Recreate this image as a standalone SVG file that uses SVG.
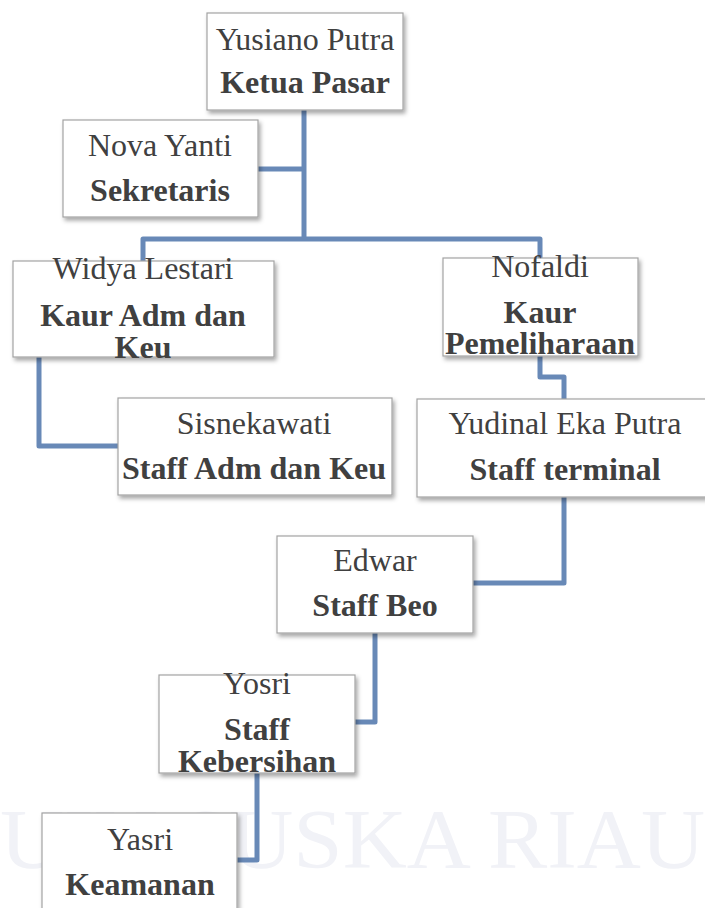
<svg xmlns="http://www.w3.org/2000/svg" width="705" height="908" viewBox="0 0 705 908">
<style>
.box{fill:#ffffff;stroke:#a3a3a3;stroke-width:1.2;filter:url(#sh)}
.t{font-family:"Liberation Serif","Times New Roman",serif;font-size:32px;fill:#404040;text-anchor:middle}
.b{font-weight:bold}
.c{fill:none;stroke:#6889b7;stroke-width:5;stroke-linejoin:round;stroke-linecap:butt}
.wm{font-family:"Liberation Serif","Times New Roman",serif;font-size:84px;fill:#f1f2f7}
</style>
<defs>
<filter id="sh" x="-10%" y="-10%" width="125%" height="135%">
<feDropShadow dx="2" dy="3" stdDeviation="2" flood-color="#000" flood-opacity="0.35"/>
</filter>
</defs>
<rect width="705" height="908" fill="#ffffff"/>
<text class="wm" x="0" y="868" textLength="705" lengthAdjust="spacingAndGlyphs">UIN SUSKA RIAU</text>
<g id="connectors">
<path class="c" d="M304,110 V239"/>
<path class="c" d="M258,169 H304"/>
<path class="c" d="M143,261 V239 H540 V258"/>
<path class="c" d="M39,357 V446 H118"/>
<path class="c" d="M540,356 V377 H564 V399"/>
<path class="c" d="M564,497 V583 H473"/>
<path class="c" d="M375,633 V722 H355"/>
<path class="c" d="M257,773 V860 H237"/>
</g>
<g id="ketua">
<rect class="box" x="207" y="13" width="196" height="97"/>
<text class="t" x="305" y="50">Yusiano Putra</text>
<text class="t b" x="305" y="93">Ketua Pasar</text>
</g>
<g id="sekretaris">
<rect class="box" x="63" y="120" width="195" height="97"/>
<text class="t" x="160" y="156">Nova Yanti</text>
<text class="t b" x="160" y="201">Sekretaris</text>
</g>
<g id="kaur-adm">
<rect class="box" x="13" y="261" width="261" height="96"/>
<text class="t" x="143" y="279">Widya Lestari</text>
<text class="t b" x="143" y="326">Kaur Adm dan</text>
<text class="t b" x="143" y="358">Keu</text>
</g>
<g id="kaur-pemeliharaan">
<rect class="box" x="443" y="258" width="195" height="98"/>
<text class="t" x="540" y="277">Nofaldi</text>
<text class="t b" x="540" y="323">Kaur</text>
<text class="t b" x="540" y="354">Pemeliharaan</text>
</g>
<g id="staff-adm">
<rect class="box" x="118" y="398" width="274" height="97"/>
<text class="t" x="254" y="434">Sisnekawati</text>
<text class="t b" x="254" y="479">Staff Adm dan Keu</text>
</g>
<g id="staff-terminal">
<rect class="box" x="417" y="399" width="296" height="98"/>
<text class="t" x="565" y="434">Yudinal Eka Putra</text>
<text class="t b" x="565" y="480">Staff terminal</text>
</g>
<g id="staff-beo">
<rect class="box" x="277" y="536" width="196" height="97"/>
<text class="t" x="375" y="571">Edwar</text>
<text class="t b" x="375" y="616">Staff Beo</text>
</g>
<g id="staff-kebersihan">
<rect class="box" x="159" y="675" width="196" height="98"/>
<text class="t" x="257" y="694">Yosri</text>
<text class="t b" x="257" y="740">Staff</text>
<text class="t b" x="257" y="772">Kebersihan</text>
</g>
<g id="keamanan">
<rect class="box" x="42" y="813" width="195" height="110"/>
<text class="t" x="140" y="850">Yasri</text>
<text class="t b" x="140" y="895">Keamanan</text>
</g>
</svg>
